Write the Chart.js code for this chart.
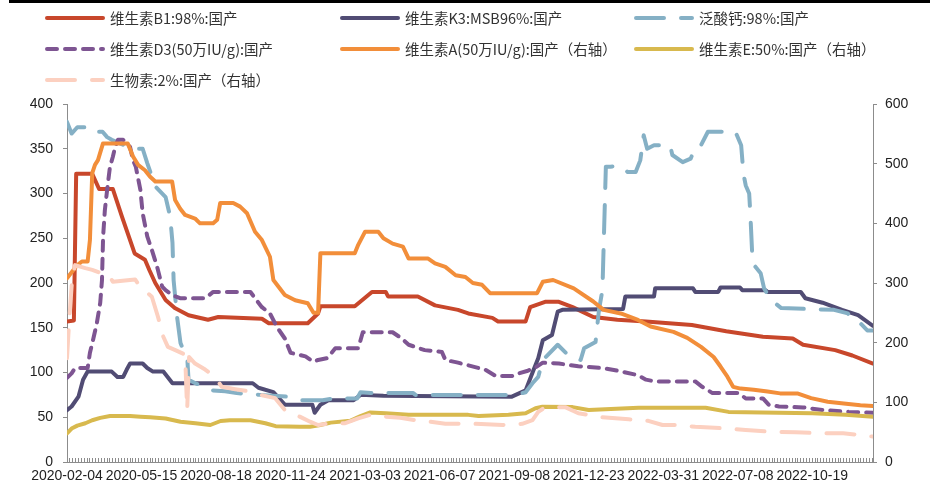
<!DOCTYPE html>
<html>
<head>
<meta charset="utf-8">
<script src="https://cdn.jsdelivr.net/npm/chart.js@4.4.1/dist/chart.umd.min.js"></script>
<style>
  html, body { margin: 0; padding: 0; background: #fff; }
  #wrap { position: relative; width: 938px; height: 490px; overflow: hidden; }
  #topbar { position: absolute; left: 9px; top: 0; width: 921px; height: 3px; background: #000; }
  #chart { position: absolute; left: 0; top: 0; }
  #legend {
    position: absolute; left: 45px; top: 2px;
    display: grid; grid-template-columns: 295px 294px 240px; grid-auto-rows: 31px;
    font-family: "Noto Sans CJK SC", "Noto Sans", sans-serif; font-size: 14.5px; color: #333;
  }
  .item { display: flex; align-items: center; white-space: nowrap; }
  .item svg { margin-right: 5px; flex: none; }
</style>
</head>
<body>
<div id="wrap">
  <canvas id="chart" width="938" height="490"></canvas>
  <div id="topbar"></div>
  <div id="legend"></div>
</div>
<script>
// x is a trading-day index counted from 2020-02-04, one label every 65 days
const dateLabels = ['2020-02-04', '2020-05-15', '2020-08-18', '2020-11-24', '2021-03-03', '2021-06-07',
                    '2021-09-08', '2021-12-23', '2022-03-31', '2022-07-08', '2022-10-19'];
const labelStep = 65;
const xMax = 703;

const seriesNames = ['维生素B1:98%:国产', '维生素K3:MSB96%:国产', '泛酸钙:98%:国产', '维生素D3(50万IU/g):国产',
                     '维生素A(50万IU/g):国产（右轴）', '维生素E:50%:国产（右轴）', '生物素:2%:国产（右轴）'];

// left axis series
const vitB1 = [[0,157],[6,158],[8,322],[22,322],[28,305],[40,305],[48,274],[52,259],[59,233],[68,226],[72,214],[77,200],
  [86,181],[94,172],[106,164],[123,159],[132,162],[170,160],[176,155],[210,155],[219,166],[221,174],[251,174],[266,190],
  [278,190],[280,185],[306,185],[321,175],[341,170],[350,166],[371,161],[376,157],[400,157],[404,173],[417,179],[429,179],
  [441,173],[459,162],[480,159],[505,157],[545,153],[575,146],[607,140],[633,138],[642,131],[670,125],[685,119],[703,110]];

const vitK3 = [[0,58],[4,62],[10,73],[14,92],[18,101],[39,101],[44,95],[49,95],[52,103],[55,110],[66,110],[70,105],[75,101],
  [84,101],[92,88],[162,88],[167,83],[180,78],[190,64],[214,64],[216,55],[221,64],[228,69],[250,69],[256,75],[276,74],
  [388,73],[400,80],[407,103],[411,116],[415,136],[423,142],[428,168],[432,170],[485,171],[487,185],[512,185],[513,194],
  [546,194],[548,190],[568,190],[570,195],[587,195],[589,192],[609,192],[611,190],[640,190],[644,183],[659,178],[676,170],
  [690,164],[703,152]];

const calPan = [[0,380],[4,367],[9,374],[17,374],[20,369],[31,369],[35,363],[39,360],[57,350],[66,350],[70,334],[77,308],
  [86,296],[90,274],[92,245],[93,203],[96,162],[99,133],[105,114],[106,92],[112,88],[127,80],[138,79],[148,77],[168,75],
  [193,73],[205,69],[223,69],[232,71],[253,71],[256,78],[265,77],[302,77],[304,75],[391,75],[400,78],[406,88],[411,95],
  [415,114],[428,131],[439,117],[448,114],[451,127],[461,134],[464,170],[467,192],[470,330],[474,330],[483,331],[489,324],
  [496,324],[500,337],[503,365],[506,350],[512,354],[526,354],[528,343],[537,335],[544,339],[548,352],[553,354],[559,369],
  [583,369],[588,354],[590,322],[592,309],[595,300],[596,278],[598,222],[605,211],[608,194],[614,181],[623,172],[669,170],
  [681,166],[686,159],[692,155],[698,147],[703,147]];

const vitD3 = [[0,94],[4,99],[7,105],[18,105],[20,122],[23,138],[26,155],[29,178],[30.5,203],[31.5,252],[33,281],[35,304],
  [37.5,330],[40,341],[42,352],[44.5,360],[49,360],[55,352],[57.6,337],[60,330],[64,304],[66,278],[70,252],[74,237],
  [78.6,218],[83,196],[86,192],[92.5,186],[98.6,183],[120.5,183],[127.5,190],[160,190],[164,183],[170,173],[177,166],
  [183,151],[190,138],[195,122],[208,118],[215,112],[219,114],[227,116],[234,127],[254,127],[258,145],[284,145],[292,138],
  [298,131],[312,125],[327,123],[330,114],[341,111],[356,106],[365,103],[374,96],[388,96],[394,99],[402,102],[409,106],
  [415,111],[429,110],[446,107],[467,105],[472,104],[484,101],[498,97],[505,92],[513,90],[548,90],[554,84],[563,77],
  [586,77],[592,71],[607,71],[612,64],[621,62],[642,61],[659,58],[682,56],[703,55]];

// right axis series
const vitA = [[0,308],[9,330],[13,336],[18,336],[20,372],[22,484],[24.4,498],[27,506],[31.4,534],[53,534],[57.6,512],
  [62,498],[68,489],[72.5,478],[77,470],[91.7,470],[94.3,439],[98.6,425],[103,414],[111.7,408],[116,400],[127.5,400],
  [131,406],[133.6,434],[145,434],[151,428],[157,417],[164,386],[170,372],[177,344],[180,305],[190,280],[199,271],[210,266],
  [215,250],[219,250],[221,350],[251,350],[254,364],[260,386],[271.5,386],[276,375],[284,366],[293,361],[298,341],[315,341],
  [321,333],[330,327],[339,313],[347.5,310],[354,300],[362,297],[369,283],[410,283],[415,302],[424,305],[442,291],[459,269],
  [468,255],[483,249],[498,238],[509,227],[529,218],[541,208],[553,193],[564,176],[570,160],[576,143],[581,126],[587.5,123],
  [599,121],[611,118],[622,115],[637,115],[649,107],[663.5,101],[677.5,98],[692,95],[703,94]];

const vitE = [[0,48],[4,56],[9,61],[16,65],[22,70],[29,74],[37.5,77],[55,77],[64,76],[72.5,75],[86,73],[99,67.5],[112,65],
  [125,62],[134,68.7],[142,70],[160,70],[173,65],[182,60],[203,59],[212,59],[221,62],[230,66],[247,69],[256,77],[264.5,83],
  [278,81.6],[298,79],[350,79],[359,77],[385,79],[400,81.6],[408.6,90],[414.7,92.7],[441,92],[455,87],[498.5,91],[557,91],
  [577,84],[650,81.6],[679,79],[703,76]];

const biotin = [[0,174],[1.7,230],[4.4,305],[7,330],[16,325],[22,322],[29,317],[36,315],[40,302],[50.6,304],[59.4,306],
  [63.7,294],[74,277],[79.4,243],[84,210],[88,193],[94,188],[103,180],[104.8,87],[106.5,176],[111.7,165],[120.5,155],
  [129,143],[135,126],[146.7,122],[160,118],[170,112],[181.6,107],[190,87],[194.7,81.6],[203,76],[212,67.5],[219,62],
  [229.6,65],[242.7,65],[254,73],[264.5,79],[277.6,76],[290.7,74],[304,70],[317,67.5],[330,64],[356,64],[380,62],[397,64],
  [406,70],[411,84],[417,91.6],[435,91.6],[446,81.6],[467,75],[490,71.5],[507,69],[519.4,62],[531,62],[548,59],[572,56.5],
  [592,53.6],[612,51],[635.6,49.7],[659,48],[677,48],[694,45],[703,42.5]];

const allSeries = [vitB1, vitK3, calPan, vitD3, vitA, vitE, biotin];
const axisOf = ['y', 'y', 'y', 'y', 'y1', 'y1', 'y1'];
const colors = ['#C8472B', '#514C74', '#85B0C5', '#7E5592', '#F28E3A', '#D8B94E', '#FCD0C0'];
const dashes = [[], [], [28, 17], [10, 8], [], [], [28, 17]];

const pts = arr => arr.map(([x, y]) => ({ x, y }));

Chart.defaults.font.family = '"Liberation Sans", Arial, sans-serif';

const datasets = allSeries.map((s, i) => ({
  label: seriesNames[i],
  data: pts(s),
  yAxisID: axisOf[i],
  borderColor: colors[i],
  backgroundColor: colors[i],
  borderWidth: 4,
  borderDash: dashes[i],
  borderCapStyle: 'round',
  borderJoinStyle: 'round',
  pointRadius: 0,
  tension: 0,
  fill: false,
  order: allSeries.length - i   // later series drawn on top
}));

const axisGrey = '#8c8c8c';
const tickFont = { size: 14 };

const chart = new Chart(document.getElementById('chart'), {
  type: 'line',
  data: { datasets },
  options: {
    responsive: false,
    animation: false,
    layout: { padding: { top: 104, left: 0, right: 0, bottom: 0 } },
    plugins: { legend: { display: false }, tooltip: { enabled: false } },
    scales: {
      x: {
        type: 'linear', min: 0, max: xMax,
        afterBuildTicks: scale => {
          const t = [];
          for (let i = 0; i * 2.5 <= xMax; i++) t.push({ value: i * 2.5 });
          scale.ticks = t;
        },
        afterFit: scale => { scale.height = 28; },
        grid: { drawOnChartArea: false, drawTicks: true, tickLength: -4, color: axisGrey },
        border: { color: axisGrey },
        ticks: {
          autoSkip: false, maxRotation: 0, minRotation: 0, padding: 10,
          color: '#222', font: tickFont,
          callback: v => (v % labelStep === 0 && dateLabels[v / labelStep]) ? dateLabels[v / labelStep] : ''
        }
      },
      y: {
        position: 'left', min: 0, max: 400,
        afterFit: scale => { scale.width = 67; },
        grid: { drawOnChartArea: false, tickLength: 4, color: axisGrey },
        border: { color: axisGrey },
        ticks: { stepSize: 50, padding: 10, color: '#222', font: tickFont }
      },
      y1: {
        position: 'right', min: 0, max: 600,
        afterFit: scale => { scale.width = 65; },
        grid: { drawOnChartArea: false, tickLength: 4, color: axisGrey },
        border: { color: axisGrey },
        ticks: { stepSize: 100, padding: 8, color: '#222', font: tickFont }
      }
    }
  }
});

// legend laid out in three fixed columns
const legend = document.getElementById('legend');
chart.data.datasets.forEach(ds => {
  const item = document.createElement('div');
  item.className = 'item';
  const dash = ds.borderDash.length ? ` stroke-dasharray="${ds.borderDash.join(' ')}"` : '';
  item.innerHTML = `<svg width="60" height="8"><line x1="2" y1="4" x2="58" y2="4" stroke="${ds.borderColor}"
    stroke-width="4" stroke-linecap="round"${dash}/></svg><span>${ds.label}</span>`;
  legend.appendChild(item);
});
</script>
</body>
</html>
